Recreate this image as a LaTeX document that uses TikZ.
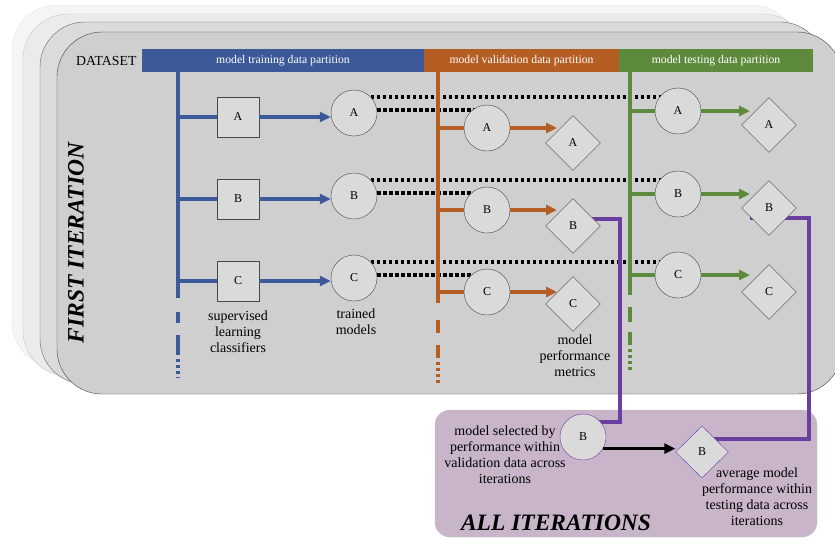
\documentclass[tikz,border=0pt]{standalone}
\usepackage{fontspec}
\setmainfont{Liberation Serif}
\usetikzlibrary{arrows.meta, shapes.geometric, backgrounds}

\definecolor{trainblue}{HTML}{3C5A9A}
\definecolor{validorange}{HTML}{B55E23}
\definecolor{testgreen}{HTML}{5E8A3D}
\definecolor{selpurple}{HTML}{6B3FA0}
\definecolor{allfill}{HTML}{C8B5CA}
\definecolor{cardgray}{HTML}{CFCFCF}
\definecolor{nodegray}{HTML}{DADADA}

\begin{document}
\begin{tikzpicture}[x=1pt, y=-1pt]
        \useasboundingbox (0,0) rectangle (835,539);
        \tikzstyle{Card} = [rounded corners=45pt]
        \tikzstyle{Clf} = [draw=black!72, fill=nodegray, minimum width=42pt, minimum height=40pt, font=\fontsize{12}{14}\selectfont]
        \tikzstyle{Model} = [circle, draw=black!72, fill=nodegray, minimum size=46pt, inner sep=0pt, font=\fontsize{12}{14}\selectfont]
        \tikzstyle{Metric} = [diamond, draw=black!72, fill=nodegray, minimum width=55pt, minimum height=55pt, inner sep=0pt, font=\fontsize{12}{14}\selectfont]
        \tikzstyle{Bar} = [minimum height=23pt, inner sep=0pt, text=white, font=\fontsize{11.7}{12}\selectfont]
        \tikzstyle{Label} = [align=center, font=\fontsize{14}{16}\selectfont]
        \tikzstyle{Title} = [font=\fontsize{23.5}{24}\selectfont\bfseries\itshape]
        \tikzstyle{Flow} = [line width=3.5pt]
        \tikzstyle{Tip} = [-{Triangle[length=11pt, width=10pt]}]
        \tikzstyle{Dots} = [line width=3.5pt, dash pattern=on 3.5pt off 2.5pt]

        \node[anchor=east, font=\fontsize{13.8}{14}\selectfont] (dataset) at (140,60.5) {DATASET};
        \node[Bar, fill=trainblue, minimum width=282pt] (trainbar) at (283,60.5) {model training data partition};
        \node[Bar, fill=validorange, minimum width=195pt] (validbar) at (521.5,60.5) {model validation data partition};
        \node[Bar, fill=testgreen, minimum width=194pt] (testbar) at (716,60.5) {model testing data partition};
        \node[Title, rotate=90] (first) at (76,243) {FIRST ITERATION};

        \node[Clf] (tA) at (238,117) {A};
        \node[Clf] (tB) at (238,199) {B};
        \node[Clf] (tC) at (238,281) {C};
        \node[Model] (mA) at (354,113) {A};
        \node[Model] (mB) at (354,196) {B};
        \node[Model] (mC) at (354,278) {C};
        \node[Model] (vA) at (487,128) {A};
        \node[Model] (vB) at (487,210) {B};
        \node[Model] (vC) at (487,292) {C};
        \node[Metric] (vdA) at (573,143) {A};
        \node[Metric] (vdB) at (573,226) {B};
        \node[Metric] (vdC) at (573,304) {C};
        \node[Model] (sA) at (678,111) {A};
        \node[Model] (sB) at (678,194) {B};
        \node[Model] (sC) at (678,275) {C};
        \node[Metric] (sdA) at (769,125) {A};
        \node[Metric] (sdB) at (769,208) {B};
        \node[Metric] (sdC) at (769,292) {C};

        \node[Label] (clflabel) at (238,332) {supervised\\learning\\classifiers};
        \node[Label] (modlabel) at (356,322) {trained\\models};
        \node[Label] (metlabel) at (575,356) {model\\performance\\metrics};

        \node[Model, draw=selpurple] (aB) at (583,437) {B};
        \node[Metric, draw=selpurple, minimum width=53pt, minimum height=52pt] (adB) at (702,452) {B};
        \node[Label] (sellabel) at (505,455) {model selected by\\performance within\\validation data across\\iterations};
        \node[Label] (avglabel) at (757,497) {average model\\performance within\\testing data across\\iterations};
        \node[Title] (all) at (556,523) {ALL ITERATIONS};

        \foreach \p/\col/\xx/\ya/\yb/\yc/\yd/\ye/\yf in {train/trainblue/178/298/312/323/335/355/378, valid/validorange/438/303/320/333/345/358/385, test/testgreen/630/295/307/322/332/345/372} {
            \coordinate (\p end) at (\xx,\ya);
            \draw[Flow, \col] (\p bar.south -| \p end) -- (\p end);
            \draw[Flow, \col] (\xx,\yb) -- (\xx,\yc) (\xx,\yd) -- (\xx,\ye);
            \draw[Flow, \col, dash pattern=on 3pt off 3pt] (\xx,{\ye+4}) -- (\xx,\yf);
        }

        \foreach \r in {A,B,C} {
            \draw[Flow, trainblue] (t\r.west -| trainend) -- (t\r.west);
            \draw[Flow, trainblue, Tip] (t\r.east) -- (t\r.east -| m\r.west);
            \draw[Flow, validorange] (v\r.west -| validend) -- (v\r.west);
            \draw[Flow, validorange, Tip, shorten >=16pt] (v\r.east) -- (v\r.east -| vd\r.north);
            \draw[Flow, testgreen] (s\r.west -| testend) -- (s\r.west);
            \draw[Flow, testgreen, Tip, shorten >=19pt] (s\r.east) -- (s\r.east -| sd\r.north);
        }

        \draw[Flow, black, Tip] (aB.-30) -- (aB.-30 -| adB.west);

        \coordinate (selcorner) at (620,422);
        \coordinate (avgcorner) at (809,439);

        \begin{pgfonlayer}{background}
            \draw[Card, draw=black!10, fill=black!4] (12,5) rectangle (797,367);
            \draw[Card, draw=black!22, fill=black!8] (23,14) rectangle (808,376);
            \draw[Card, draw=black!60, fill=black!14] (40,22) rectangle (825,384);
            \draw[Card, draw=black!75, fill=cardgray] (57,32) rectangle (842,394);
            \draw[rounded corners=15pt, draw=black!25, fill=allfill] (435,410) rectangle (817,537);
            \foreach \r in {A,B,C} {
                \draw[Dots] (m\r.44) -- (m\r.44 -| s\r.center);
                \draw[Dots] (m\r.7) -- (m\r.7 -| v\r.center);
            }
            \draw[Flow, selpurple] ([yshift=7pt]vdB.center) -| (selcorner) -- (selcorner -| aB.center);
            \draw[Flow, selpurple] ([xshift=9pt, yshift=-10pt]sdB.west) -| (avgcorner) -- (avgcorner -| adB.center);
        \end{pgfonlayer}
    \end{tikzpicture}
\end{document}
